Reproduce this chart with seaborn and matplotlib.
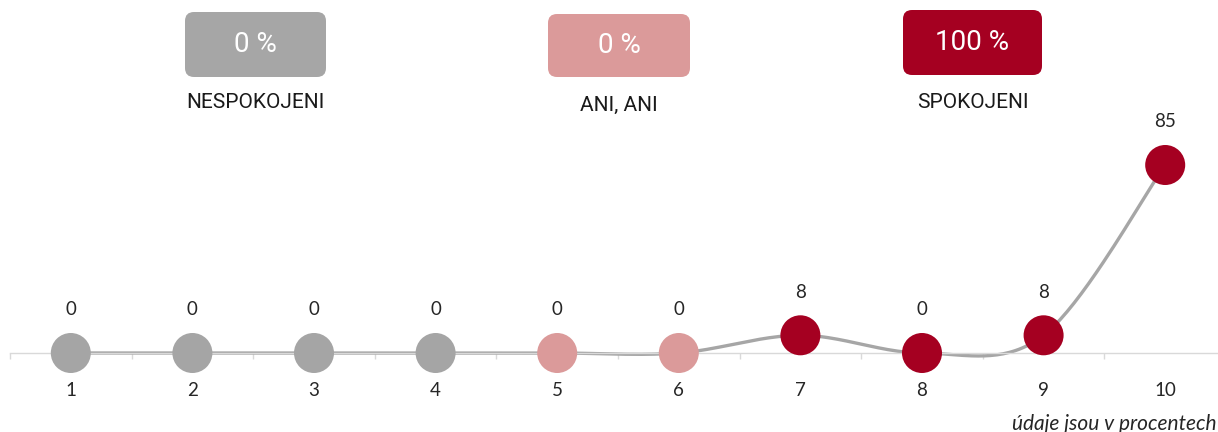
import numpy as np
import pandas as pd
import seaborn as sns
import matplotlib.pyplot as plt
from matplotlib.patches import FancyBboxPatch

# Satisfaction scale 1-10, share of respondents (%)
scores = [1, 2, 3, 4, 5, 6, 7, 8, 9, 10]
values = [0, 0, 0, 0, 0, 0, 8, 0, 8, 85]
groups = ["NESPOKOJENI"] * 4 + ["ANI, ANI"] * 2 + ["SPOKOJENI"] * 4

summary_labels = ["NESPOKOJENI", "ANI, ANI", "SPOKOJENI"]
summary_values = [0, 0, 100]
footnote = "údaje jsou v procentech"

palette = {"NESPOKOJENI": "#A5A5A5", "ANI, ANI": "#DB9A9A", "SPOKOJENI": "#A50021"}
box_colors = ["#A6A6A6", "#DB9A9A", "#A50021"]

sns.set_theme(style="white")
plt.rcParams["font.family"] = ["Lato", "DejaVu Sans"]

W, H = 1218, 432
fig = plt.figure(figsize=(W / 100, H / 100), dpi=100)

ax = fig.add_axes([10 / W, 79 / H, 1208 / W, 188 / H])


def smooth_curve(xs, ys, n=40):
    """Cubic Bezier smoothing through all points (spreadsheet-style smoothed line)."""
    P = np.column_stack([xs, ys]).astype(float)
    ext = np.vstack([P[0], P, P[-1]])
    out = []
    t = np.linspace(0, 1, n)[:, None]
    for i in range(len(P) - 1):
        p0, p1 = P[i], P[i + 1]
        c1 = p0 + (ext[i + 2] - ext[i]) / 6.0
        c2 = p1 - (ext[i + 3] - ext[i + 1]) / 6.0
        seg = ((1 - t) ** 3) * p0 + 3 * ((1 - t) ** 2) * t * c1 + 3 * (1 - t) * t ** 2 * c2 + t ** 3 * p1
        out.append(seg if i == 0 else seg[1:])
    return np.vstack(out)


curve = smooth_curve(scores, values)
curve_df = pd.DataFrame({"x": curve[:, 0], "y": curve[:, 1]})
sns.lineplot(data=curve_df, x="x", y="y", sort=False, ax=ax, color="#A6A6A6",
             linewidth=2.4, zorder=2, clip_on=False)

df = pd.DataFrame({"score": scores, "value": values, "group": groups})
sns.scatterplot(data=df, x="score", y="value", hue="group", palette=palette, s=830,
                linewidth=0, legend=False, ax=ax, zorder=3, clip_on=False)

for xv, yv in zip(scores, values):
    ax.annotate(f"{yv}", (xv, yv), xytext=(0, 31), textcoords="offset points",
                ha="center", va="center", fontsize=13.5, color="#262626")

ax.set_xticks(scores)
ax.set_xticklabels([str(s) for s in scores], fontsize=13.5, color="#262626")
ax.set_xticks(np.arange(0.5, 11, 1.0), minor=True)
ax.set_xlim(0.5, 0.5 + 1208 / 121.6)
ax.set_ylim(0, 85)
ax.tick_params(axis="x", which="major", length=0, pad=21)
ax.tick_params(axis="x", which="minor", length=4, width=1, color="#D9D9D9", direction="out", bottom=True)
ax.set_yticks([])
ax.set_xlabel("")
ax.set_ylabel("")
for side in ["top", "left", "right"]:
    ax.spines[side].set_visible(False)
ax.spines["bottom"].set_color("#D9D9D9")
ax.spines["bottom"].set_linewidth(1)
ax.patch.set_alpha(0)

# Overlay in pixel coordinates for the summary boxes
ov = fig.add_axes([0, 0, 1, 1], zorder=5)
ov.set_xlim(0, W)
ov.set_ylim(H, 0)
ov.axis("off")
ov.patch.set_alpha(0)

boxes = [(185, 12, 141, 65), (548, 14, 142, 63), (903, 10, 139, 65)]
label_y = [103, 105, 103]
for (bx, by, bw, bh), col, lab, val, ly in zip(boxes, box_colors, summary_labels, summary_values, label_y):
    r = 9
    ov.add_patch(FancyBboxPatch((bx + r, by + r), bw - 2 * r, bh - 2 * r,
                                boxstyle=f"round,pad={r}", facecolor=col, edgecolor="none"))
    cx = bx + bw / 2
    ov.text(cx, by + bh / 2, f"{val} %", ha="center", va="center", color="white",
            fontsize=20, family=["Roboto", "DejaVu Sans"], fontweight="normal")
    ov.text(cx, ly, lab, ha="center", va="center", color="#1a1a1a",
            fontsize=15, family=["Roboto", "DejaVu Sans"], fontweight="normal")

ov.text(W - 1, 424, footnote, ha="right", va="center", fontsize=15,
        style="italic", color="#262626")

fig.savefig("out.png", dpi=100)
